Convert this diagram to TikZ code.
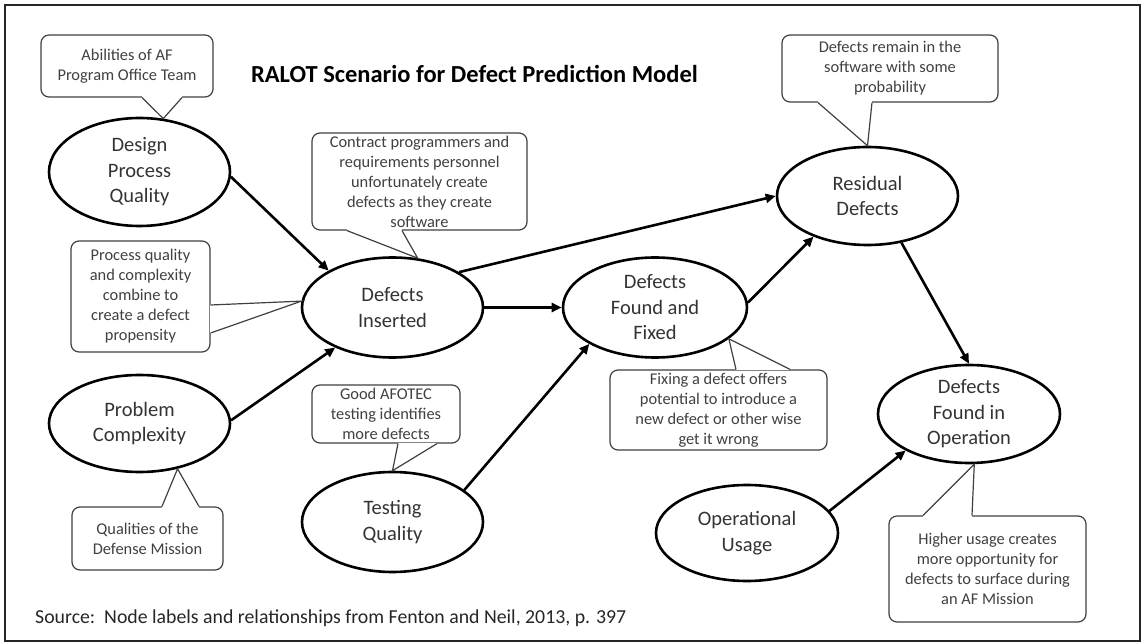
\documentclass[tikz,border=0pt]{standalone}
\usepackage{fontspec}
\setmainfont{Carlito}
\usetikzlibrary{shapes.geometric,arrows.meta,calc}
\tikzset{
  ell/.style={ellipse, draw=black, line width=2.6pt, inner sep=0pt, align=center,
    font=\fontsize{20.5}{25.5}\selectfont, text=black!80},
  cbox/.style={rectangle, rounded corners=8pt, draw=black!75, line width=1.2pt, fill=white,
    inner sep=0pt, align=center, font=\fontsize{16.4}{20}\selectfont, text=black!75},
  link/.style={line width=2.6pt, -{Triangle[length=10pt,width=9pt]}},
  tailline/.style={draw=black!75, line width=1.2pt, line join=miter},
}
\newcommand\calltail[3]{%
  \draw[white, line width=2.2pt] #1 -- #2;
  \draw[tailline] #1 -- #3 -- #2;}
\begin{document}
\begin{tikzpicture}[x=1pt,y=-1pt]
\useasboundingbox (0,0) rectangle (1144,644);
\draw[line width=1.6pt, black!85] (5,5) rectangle (1140,641);

\node[font=\fontsize{24.5}{30}\selectfont\bfseries] (title) at (474.5,74) {RALOT Scenario for Defect Prediction Model};

% ellipses
\node[ell, minimum width=181pt, minimum height=108pt] (dpq) at (139.5,172) {Design\\Process\\Quality};
\node[ell, minimum width=181pt, minimum height=100pt] (di) at (392.5,307.5) {Defects\\Inserted};
\node[ell, minimum width=181pt, minimum height=97pt] (pc) at (139.5,423.5) {Problem\\Complexity};
\node[ell, minimum width=181pt, minimum height=100pt] (tq) at (392.5,522) {Testing\\Quality};
\node[ell, minimum width=184pt, minimum height=100pt] (dff) at (655,307.5) {Defects\\Found and\\Fixed};
\node[ell, minimum width=181pt, minimum height=98pt] (rd) at (867.5,196) {Residual\\Defects};
\node[ell, minimum width=182pt, minimum height=98pt] (dfo) at (969,414) {Defects\\Found in\\Operation};
\node[ell, minimum width=182pt, minimum height=96pt] (ou) at (747,533) {Operational\\Usage};

% arrows
\draw[link] (dpq.-3) -- (di.150.5);
\draw[link] (pc.2) -- (di.215);
\draw[link] (di.east) -- (dff.west);
\draw[link] (di.28) -- (rd.west);
\draw[link] (dff.3) -- (rd.217);
\draw[link] (rd.-54) -- (dfo.north);
\draw[link] (tq.24.5) -- (dff.209);
\draw[link] (ou.15.5) -- (dfo.210);

% callouts
\node[cbox, minimum width=172pt, minimum height=62pt] (c1) at (127,66) {Abilities of AF\\Program Office Team};
\calltail{($(c1.south)+(15,0)$)}{($(c1.south)+(55,0)$)}{(dpq.66)}

\node[cbox, minimum width=215pt, minimum height=97pt] (c2) at (419.5,181.5) {Contract programmers and\\requirements personnel\\unfortunately create\\defects as they create\\software};
\calltail{($(c2.south)+(-72.5,0)$)}{($(c2.south)+(-17.5,0)$)}{(di.63)}

\node[cbox, minimum width=139pt, minimum height=111pt] (c3) at (140.5,296.5) {Process quality\\and complexity\\combine to\\create a defect\\propensity};
\calltail{($(c3.east)+(0,8.5)$)}{($(c3.east)+(0,36.5)$)}{(di.176)}

\node[cbox, minimum width=151pt, minimum height=63pt] (c4) at (147.5,538.5) {Qualities of the\\Defense Mission};
\calltail{($(c4.north)+(14.5,0)$)}{($(c4.north)+(51.5,0)$)}{(pc.-50)}

\node[cbox, minimum width=148pt, minimum height=58pt] (c5) at (386,414) {Good AFOTEC\\testing identifies\\more defects};
\calltail{($(c5.south)+(12,0)$)}{($(c5.south)+(51,0)$)}{(tq.north)}

\node[cbox, minimum width=217pt, minimum height=80pt] (c6) at (718.5,410) {Fixing a defect offers\\potential to introduce a\\new defect or other wise\\get it wrong};
\calltail{($(c6.north)+(17.5,0)$)}{($(c6.north)+(71.5,0)$)}{(dff.-23)}

\node[cbox, minimum width=216pt, minimum height=67pt] (c7) at (890,68.5) {Defects remain in the\\software with some\\probability};
\calltail{($(c7.south)+(-72,0)$)}{($(c7.south)+(-18,0)$)}{(rd.north)}

\node[cbox, minimum width=197pt, minimum height=106pt] (c8) at (987.5,569) {Higher usage creates\\more opportunity for\\defects to surface during\\an AF Mission};
\calltail{($(c8.north)+(-64.5,0)$)}{($(c8.north)+(-15.5,0)$)}{(dfo.-84)}

\node[anchor=base west, font=\fontsize{19.8}{23}\selectfont, text=black!85, inner sep=0pt] (src) at (35,623) {Source:\ \ Node labels and relationships from Fenton and Neil, 2013, p. 397};
\end{tikzpicture}
\end{document}
